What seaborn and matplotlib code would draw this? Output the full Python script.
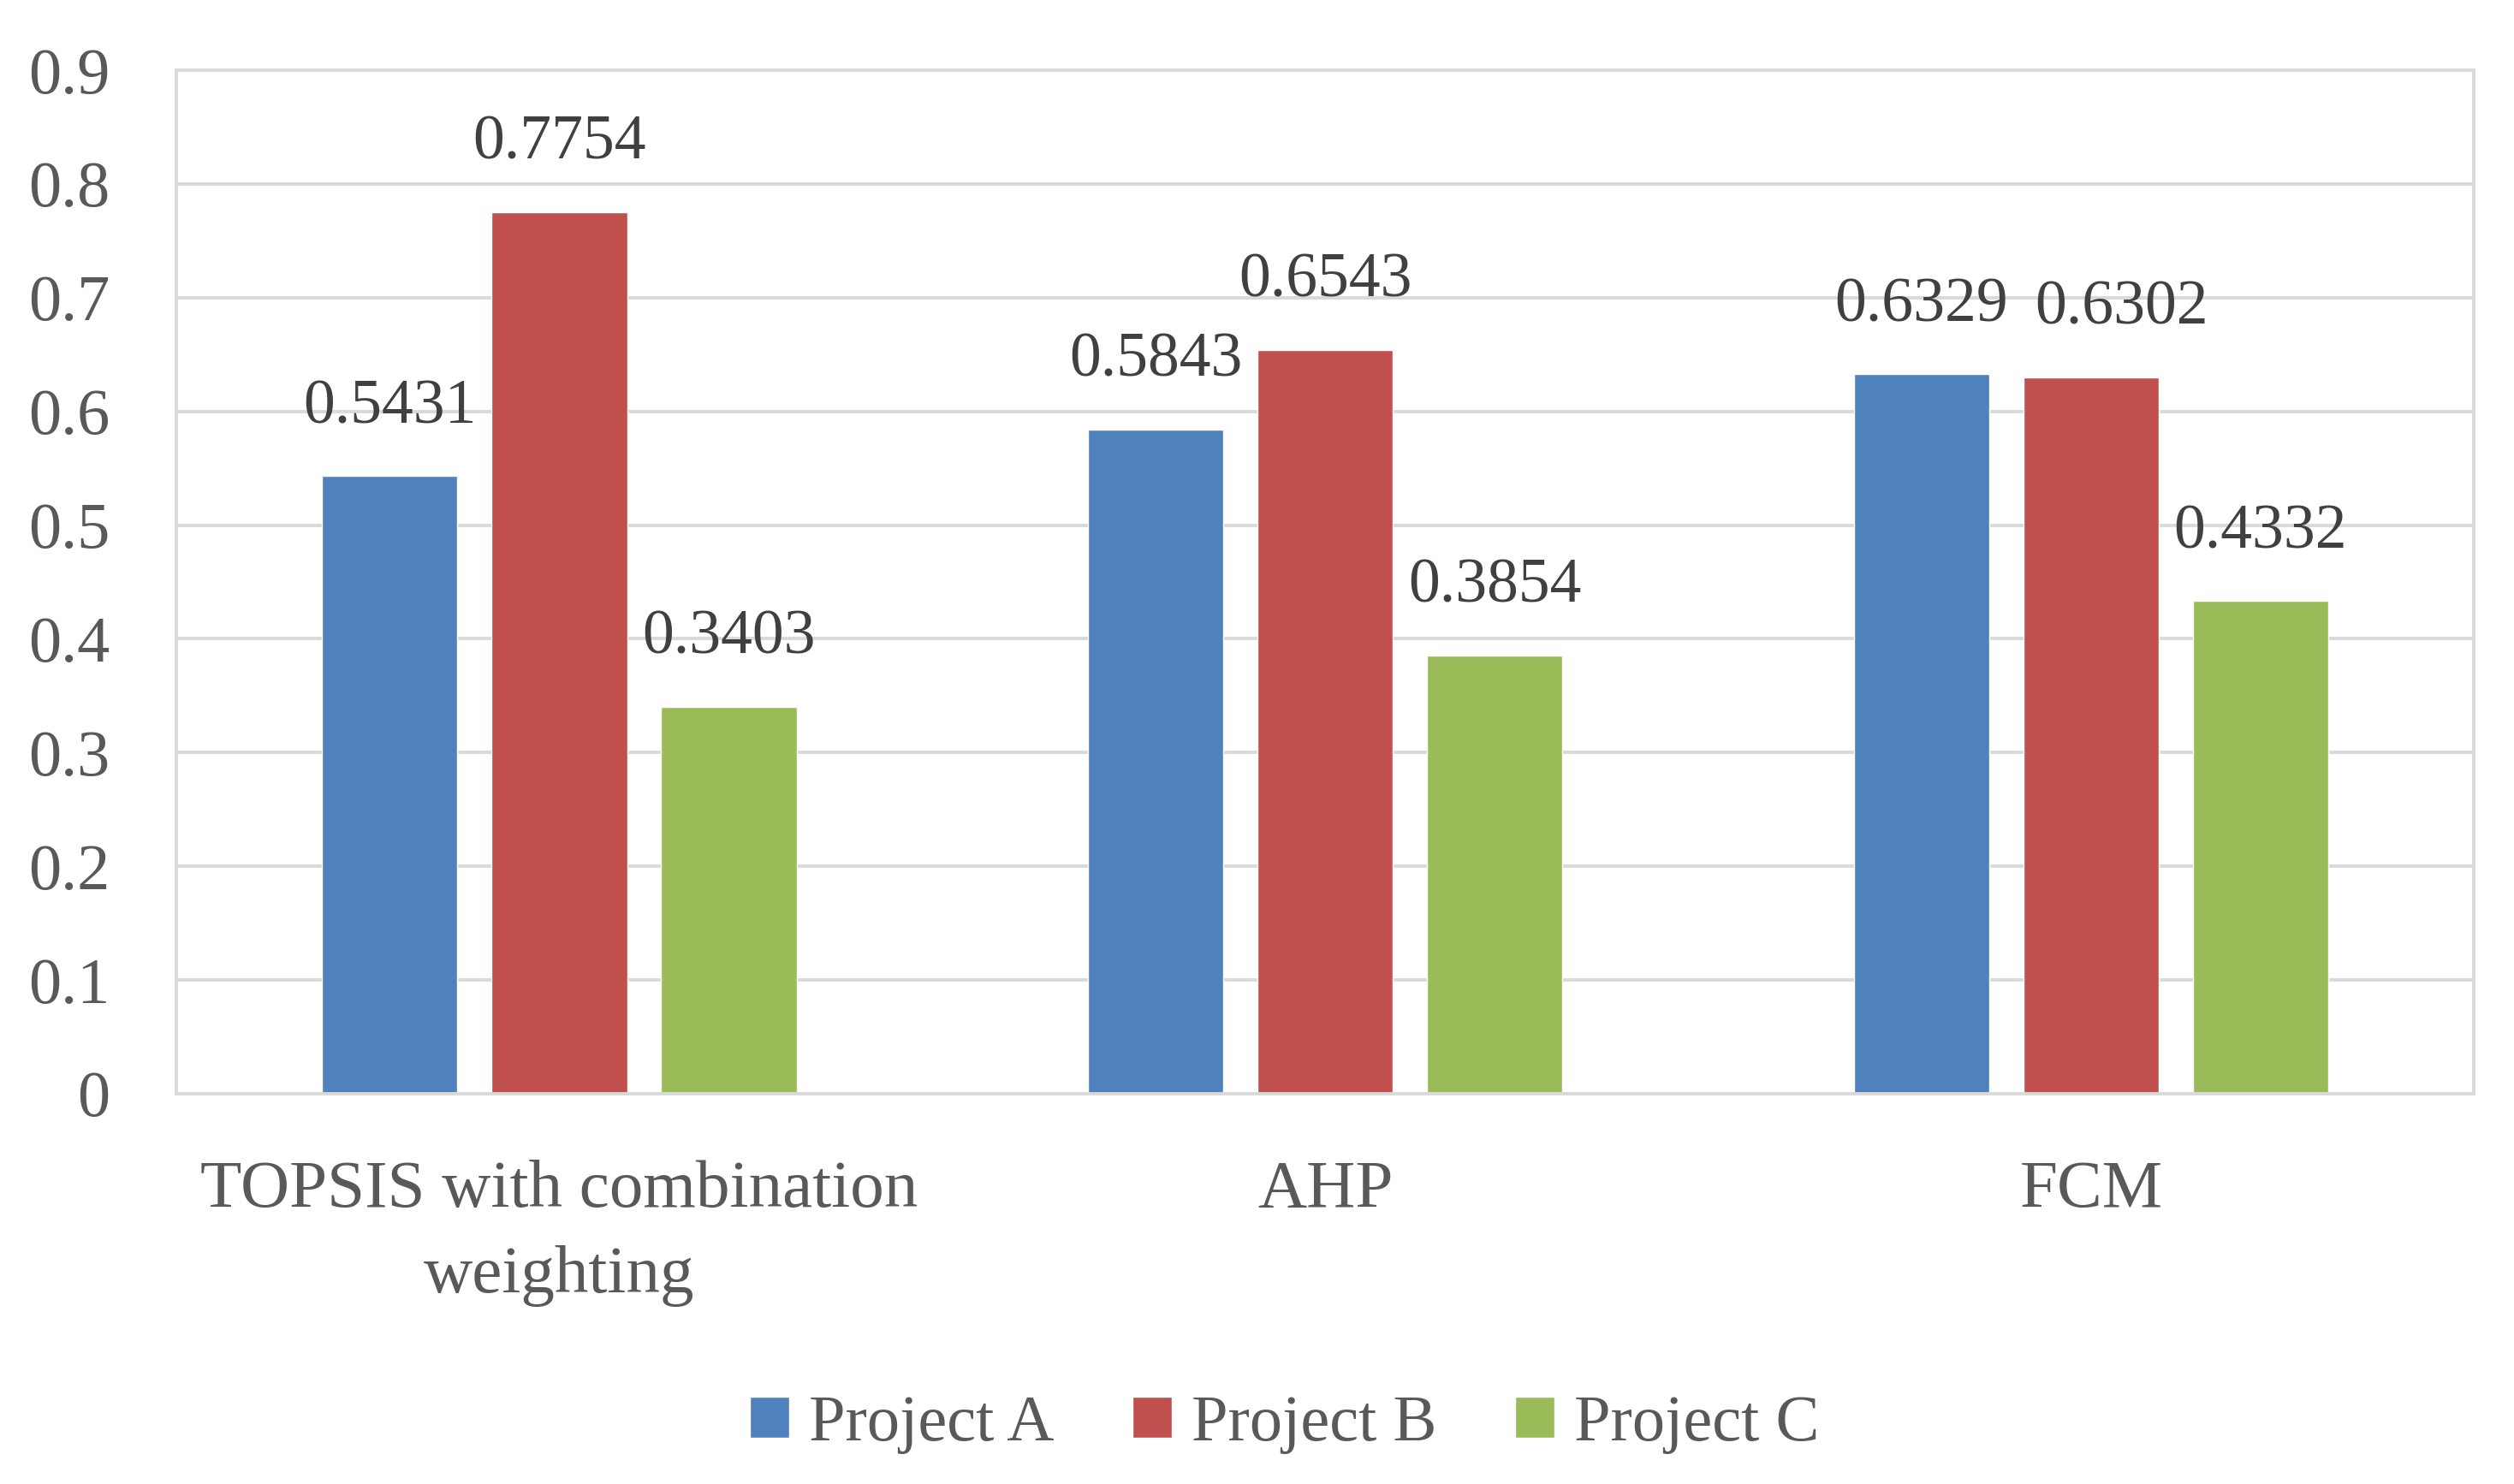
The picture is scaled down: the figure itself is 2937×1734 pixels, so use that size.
import matplotlib
matplotlib.use("Agg")
import matplotlib.pyplot as plt
import seaborn as sns
import pandas as pd

# values
methods = ["TOPSIS with combination\nweighting", "AHP", "FCM"]
projects = ["Project A", "Project B", "Project C"]
project_a = [0.5431, 0.5843, 0.6329]
project_b = [0.7754, 0.6543, 0.6302]
project_c = [0.3403, 0.3854, 0.4332]
colors = ["#4F81BD", "#C0504D", "#9BBB59"]
yticks = [0, 0.1, 0.2, 0.3, 0.4, 0.5, 0.6, 0.7, 0.8, 0.9]

df = pd.DataFrame({
    "Method": methods * 3,
    "Project": [p for p in projects for _ in methods],
    "Score": project_a + project_b + project_c,
})

sns.set_theme(style="white")
plt.rcParams["font.family"] = ["Liberation Serif", "DejaVu Serif"]

fig = plt.figure(figsize=(29.37, 17.34), dpi=100)
ax = fig.add_axes([0.0701, 0.263, 0.914, 0.6897])

sns.barplot(data=df, x="Method", y="Score", hue="Project", order=methods,
            hue_order=projects, palette=colors, width=0.664, gap=0.2,
            saturation=1, ax=ax)

label_sets = []
for cont in ax.containers:
    label_sets.append(ax.bar_label(cont, fmt="%.4f", padding=33,
                                   fontsize=53, color="#404040"))
# the FCM / Project B label is nudged right, as in the original, so it
# does not run into its neighbour
label_sets[1][2].xyann = (26, 33)

ax.set_ylim(0, 0.9)
ax.set_yticks(yticks)
ax.set_yticklabels([f"{t:g}" for t in yticks])
ax.yaxis.grid(True, color="#D9D9D9", linewidth=2.8)
ax.set_axisbelow(True)
for sp in ax.spines.values():
    sp.set_color("#D9D9D9")
    sp.set_linewidth(2.8)
ax.tick_params(axis="y", length=0, labelsize=55, labelcolor="#595959", pad=56)
ax.tick_params(axis="x", length=0, labelsize=57, labelcolor="#595959", pad=56)
for lab in ax.get_xticklabels():
    lab.set_linespacing(1.5)
ax.set_xlabel("")
ax.set_ylabel("")

ax.legend_.remove()
handles, labels = ax.get_legend_handles_labels()
fig.legend(handles, labels, loc="center", bbox_to_anchor=(0.511, 0.040),
           ncol=3, frameon=False, fontsize=55, labelcolor="#595959",
           handlelength=0.6, handleheight=0.6, handletextpad=0.3,
           columnspacing=1.2)

fig.savefig("out.png", dpi=100, facecolor="white")
